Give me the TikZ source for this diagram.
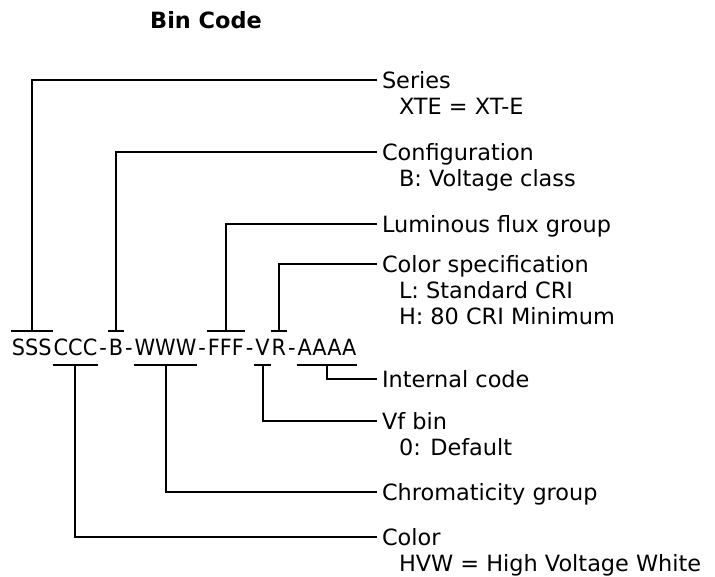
\documentclass[tikz,border=0pt]{standalone}
\usepackage{fontspec}
\setmainfont{DejaVu Sans}
\newfontfamily\codefont[FakeStretch=0.93]{DejaVu Sans}
\usetikzlibrary{positioning}
\def\barsep{7pt}
\def\labelx{377}

\begin{document}
\begin{tikzpicture}[x=1pt,y=-1pt,line width=2pt]
    \tikzstyle{every node}=[font=\fontsize{22.4}{24}\selectfont]
    \tikzstyle{code part}=[inner sep=0pt, text height=16pt, text depth=0pt, anchor=base west, font=\fontsize{22.4}{24}\codefont]
    \tikzstyle{dash part}=[code part, inner xsep=0pt]
    \tikzstyle{field}=[inner ysep=0pt, inner xsep=4pt, text height=16pt, text depth=0pt, anchor=west]
    \tikzstyle{detail}=[field, anchor=north west]

    \useasboundingbox (0,0) rectangle (715,576);

    % Title
    \node[font=\fontsize{22.4}{24}\selectfont\bfseries] (title) at (206,20) {Bin Code};

    % Draw the code, one part after the other
    \node[code part] (SSS) at (11,355) {SSS};
    \node[code part] (CCC) at (SSS.base east) {CCC};
    \node[dash part] (d1) at (CCC.base east) {-};
    \node[code part] (B) at (d1.base east) {B};
    \node[dash part] (d2) at (B.base east) {-};
    \node[code part] (WWW) at (d2.base east) {WWW};
    \node[dash part] (d3) at (WWW.base east) {-};
    \node[code part] (FFF) at (d3.base east) {FFF};
    \node[dash part] (d4) at (FFF.base east) {-};
    \node[code part] (V) at (d4.base east) {V};
    \node[code part] (R) at (V.base east) {R};
    \node[dash part] (d5) at (R.base east) {-};
    \node[code part] (AAAA) at (d5.base east) {AAAA};

    % Bars over and under the parts
    \foreach \part in {SSS,B,FFF,R}
        \draw ([yshift=\barsep]\part.north west) -- ([yshift=\barsep]\part.north east);
    \foreach \part in {CCC,WWW,V,AAAA}
        \draw ([yshift=-9pt]\part.south west) -- ([yshift=-9pt]\part.south east);

    % Fields above the code
    \node[field] (series) at (\labelx,80) {Series};
    \node[detail, below right=8pt and 17pt of series.south west] (series-d) {XTE = XT-E};
    \node[field] (config) at (\labelx,152) {Configuration};
    \node[detail, below right=8pt and 17pt of config.south west] (config-d) {B: Voltage class};
    \node[field] (flux) at (\labelx,224) {Luminous flux group};
    \node[field] (spec) at (\labelx,264) {Color specification};
    \node[detail, below right=8pt and 17pt of spec.south west] (spec-l) {L: Standard CRI};
    \node[detail, below right=8pt and 0pt of spec-l.south west] (spec-h) {H: 80 CRI Minimum};

    % Fields below the code
    \node[field] (internal) at (\labelx,379) {Internal code};
    \node[field] (vf) at (\labelx,421) {Vf bin};
    \node[detail, below right=8pt and 17pt of vf.south west] (vf-d) {0: Default};
    \node[field] (chroma) at (\labelx,492) {Chromaticity group};
    \node[field] (color) at (\labelx,537) {Color};
    \node[detail, below right=8pt and 17pt of color.south west] (color-d) {HVW = High Voltage White};

    % Connect the fields with the bars
    \draw (series.west) -| ([yshift=\barsep]SSS.north);
    \draw (config.west) -| ([yshift=\barsep]B.north);
    \draw (flux.west) -| ([yshift=\barsep]FFF.north);
    \draw (spec.west) -| ([yshift=\barsep]R.north);
    \draw ([yshift=-9pt]AAAA.south) |- (internal.west);
    \draw ([yshift=-9pt]V.south) |- (vf.west);
    \draw ([yshift=-9pt]WWW.south) |- (chroma.west);
    \draw ([yshift=-9pt]CCC.south) |- (color.west);
\end{tikzpicture}
\end{document}
